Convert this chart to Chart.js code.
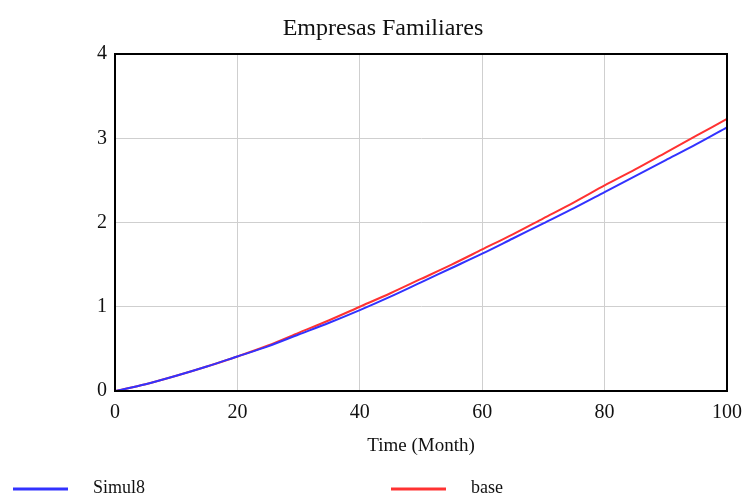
<!DOCTYPE html>
<html>
<head>
<meta charset="utf-8">
<script src="https://cdn.jsdelivr.net/npm/chart.js@4"></script>
<style>
  html, body { margin: 0; padding: 0; background: #fff; }
  #wrap { width: 746px; height: 497px; }
</style>
</head>
<body>
<div id="wrap"><canvas id="myChart" width="746" height="497"></canvas></div>
<script>
// data
var months = [0, 5, 10, 15, 20, 25, 30, 35, 40, 45, 50, 55, 60, 65, 70, 75, 80, 85, 90, 95, 100];
var simul8 = [0, 0.08, 0.18, 0.29, 0.41, 0.53, 0.67, 0.81, 0.96, 1.12, 1.29, 1.46, 1.63, 1.81, 1.99, 2.17, 2.36, 2.55, 2.74, 2.93, 3.13];
var base = [0, 0.08, 0.18, 0.29, 0.41, 0.54, 0.69, 0.84, 1.00, 1.16, 1.33, 1.50, 1.68, 1.86, 2.05, 2.24, 2.44, 2.63, 2.83, 3.03, 3.23];
var xTicks = [0, 20, 40, 60, 80, 100];
var yTicks = [0, 1, 2, 3, 4];

var chartTitle = "Empresas Familiares";
var xTitle = "Time (Month)";
var serif = "'Liberation Serif', 'DejaVu Serif', serif";

function toPoints(xs, ys) {
    return xs.map(function(x, i) { return { x: x, y: ys[i] }; });
}

// draws frame, title, axis title and the legend
var extras = {
    id: 'extras',
    afterDraw: function(chart) {
        var c = chart.ctx;
        var a = chart.chartArea;
        c.save();
        c.strokeStyle = '#000';
        c.lineWidth = 2;
        c.strokeRect(a.left, a.top, a.right - a.left, a.bottom - a.top);

        c.fillStyle = '#111';
        c.textAlign = 'center';
        c.textBaseline = 'middle';
        c.font = '24px ' + serif;
        c.fillText(chartTitle, 383, 29);
        c.font = '19px ' + serif;
        c.fillText(xTitle, (a.left + a.right) / 2, 446);

        // legend
        var items = [{ x: 13, ds: chart.data.datasets[0] }, { x: 391, ds: chart.data.datasets[1] }];
        c.font = '18px ' + serif;
        c.textAlign = 'left';
        items.forEach(function(it) {
            c.strokeStyle = it.ds.borderColor;
            c.lineWidth = 3;
            c.beginPath();
            c.moveTo(it.x, 489);
            c.lineTo(it.x + 55, 489);
            c.stroke();
            c.fillStyle = '#111';
            c.fillText(it.ds.label, it.x + 80, 488);
        });
        c.restore();
    }
};

var ctx = document.getElementById('myChart');
var chart = new Chart(ctx, {
    type: 'line',
    data: {
        datasets: [{
            label: 'Simul8',
            data: toPoints(months, simul8),
            borderColor: 'rgb(50, 50, 255)',
            borderWidth: 2,
            pointRadius: 0,
            tension: 0.3,
            fill: false
        }, {
            label: 'base',
            data: toPoints(months, base),
            borderColor: 'rgb(255, 50, 50)',
            borderWidth: 2,
            pointRadius: 0,
            tension: 0.3,
            fill: false
        }]
    },
    options: {
        responsive: false,
        animation: false,
        layout: { padding: { top: 54, right: 19, bottom: 0, left: 0 } },
        plugins: {
            legend: { display: false },
            title: { display: false },
            tooltip: { enabled: false }
        },
        scales: {
            x: {
                type: 'linear',
                min: 0,
                max: 100,
                afterBuildTicks: function(scale) {
                    scale.ticks = xTicks.map(function(v) { return { value: v }; });
                },
                afterFit: function(scale) {
                    scale.height = 106;
                    scale.paddingLeft = 0;
                    scale.paddingRight = 0;
                },
                grid: { color: '#cfcfcf', lineWidth: 1, drawTicks: false },
                border: { color: '#000', width: 2 },
                ticks: {
                    padding: 10,
                    color: '#111',
                    font: { family: serif, size: 20 }
                }
            },
            y: {
                type: 'linear',
                min: 0,
                max: 4,
                afterBuildTicks: function(scale) {
                    scale.ticks = yTicks.map(function(v) { return { value: v }; });
                },
                afterFit: function(scale) {
                    scale.width = 115;
                    scale.paddingTop = 0;
                    scale.paddingBottom = 0;
                },
                grid: { color: '#cfcfcf', lineWidth: 1, drawTicks: false },
                border: { color: '#000', width: 2 },
                ticks: {
                    padding: 8,
                    color: '#111',
                    font: { family: serif, size: 20 }
                }
            }
        }
    },
    plugins: [extras]
});
</script>
</body>
</html>
